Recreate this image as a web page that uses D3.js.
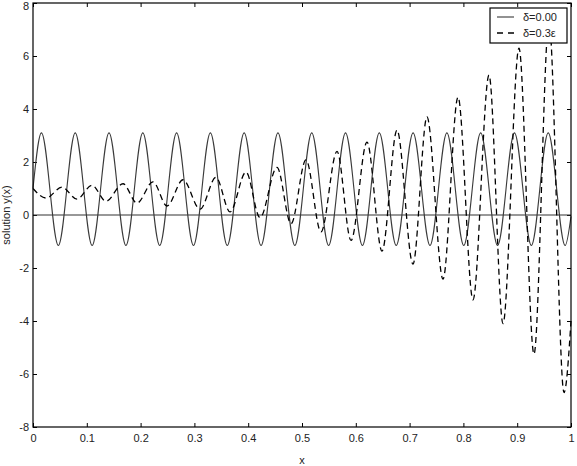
<!DOCTYPE html>
<html>
<head>
<meta charset="utf-8">
<script src="https://cdn.jsdelivr.net/npm/d3@7"></script>
<style>
  body { margin: 0; background: #fff; }
  text { font-family: "Liberation Sans", Arial, Helvetica, sans-serif; fill: #222; }
</style>
</head>
<body>
<div id="chart"></div>
<script>
// tick values
const xTicks = [0, 0.1, 0.2, 0.3, 0.4, 0.5, 0.6, 0.7, 0.8, 0.9, 1];
const yTicks = [-8, -6, -4, -2, 0, 2, 4, 6, 8];

// delta = 0.00 : start, then peaks / troughs, end
const solidX = [0, 0.0157, 0.0471, 0.0785, 0.1099, 0.1413, 0.1727, 0.2041, 0.2355,
    0.2669, 0.2983, 0.3297, 0.3611, 0.3925, 0.4239, 0.4553, 0.4867, 0.5181, 0.5495,
    0.5809, 0.6123, 0.6437, 0.6751, 0.7065, 0.7379, 0.7693, 0.8007, 0.8321, 0.8635,
    0.8949, 0.9263, 0.9577, 0.9891, 1];
const solidY = [1.0, 3.1, -1.15, 3.1, -1.15, 3.1, -1.15, 3.1, -1.15,
    3.1, -1.15, 3.1, -1.15, 3.1, -1.15, 3.1, -1.15, 3.1, -1.15,
    3.1, -1.15, 3.1, -1.15, 3.1, -1.15, 3.1, -1.15, 3.1, -1.15,
    3.1, -1.15, 3.1, -1.15, -0.05];

// delta = 0.3 eps : growing oscillation
const dashedX = [0, 0.0242, 0.0539, 0.0818, 0.1097, 0.1357, 0.1673, 0.1933, 0.2230,
    0.2491, 0.2788, 0.3104, 0.3401, 0.3662, 0.3959, 0.4219, 0.4535, 0.4796, 0.5074,
    0.5353, 0.5651, 0.5911, 0.6208, 0.6487, 0.6766, 0.7063, 0.7323, 0.7621, 0.7900,
    0.8178, 0.8476, 0.8736, 0.9033, 0.9312, 0.9591, 0.9870, 1];
const dashedY = [1.0, 0.64, 1.05, 0.6, 1.12, 0.52, 1.18, 0.45, 1.25,
    0.34, 1.33, 0.22, 1.42, 0.12, 1.62, -0.1, 1.8, -0.33, 2.08,
    -0.64, 2.4, -0.96, 2.75, -1.36, 3.2, -1.85, 3.7, -2.42, 4.45,
    -3.2, 5.28, -4.1, 6.3, -5.25, 7.3, -6.7, -4.0];

const seriesNames = ["\u03b4=0.00", "\u03b4=0.3\u03b5"];

const W = 577, H = 466;
const margin = { top: 3, right: 6, bottom: 39, left: 33 };
const width = W - margin.left - margin.right;
const height = H - margin.top - margin.bottom;

const svg = d3.select("#chart").append("svg")
    .attr("width", W)
    .attr("height", H);

const g = svg.append("g")
    .attr("transform", "translate(" + margin.left + "," + margin.top + ")");

const x = d3.scaleLinear().domain([0, 1]).range([0, width]);
const y = d3.scaleLinear().domain([-8, 8]).range([height, 0]);

// axes, ticks pointing inward, plain hyphen minus like the original
g.append("g")
    .attr("transform", "translate(0," + height + ")")
    .call(d3.axisBottom(x).tickValues(xTicks).tickSize(-4).tickPadding(7)
        .tickFormat(d => String(d)))
    .call(a => a.select(".domain").remove());

g.append("g")
    .attr("class", "yaxis")
    .call(d3.axisLeft(y).tickValues(yTicks).tickSize(-4).tickPadding(4)
        .tickFormat(d => String(d)))
    .call(a => a.select(".domain").remove());

// top label would be clipped otherwise
g.selectAll(".yaxis .tick text")
    .filter(d => d === 8)
    .attr("dy", "0.6em");

g.append("g")
    .call(d3.axisTop(x).tickValues(xTicks).tickSize(-4).tickFormat(""))
    .call(a => a.select(".domain").remove());

g.append("g")
    .attr("transform", "translate(" + width + ",0)")
    .call(d3.axisRight(y).tickValues(yTicks).tickSize(-4).tickFormat(""))
    .call(a => a.select(".domain").remove());

g.selectAll(".tick text")
    .style("font-size", "11px")
    .attr("fill", "#222");
g.selectAll(".tick line").attr("stroke", "#000");

// zero line
g.append("line")
    .attr("x1", 0).attr("x2", width)
    .attr("y1", y(0)).attr("y2", y(0))
    .attr("stroke", "#333")
    .attr("stroke-width", 1.2);

// curves
const line = d3.line()
    .x(d => x(d[0]))
    .y(d => y(d[1]))
    .curve(d3.curveMonotoneX);

g.append("path")
    .datum(d3.zip(solidX, solidY))
    .attr("fill", "none")
    .attr("stroke", "#3a3a3a")
    .attr("stroke-width", 1.1)
    .attr("d", line);

g.append("path")
    .datum(d3.zip(dashedX, dashedY))
    .attr("fill", "none")
    .attr("stroke", "#000")
    .attr("stroke-width", 1.3)
    .attr("stroke-dasharray", "6,4")
    .attr("d", line);

// frame
g.append("rect")
    .attr("width", width)
    .attr("height", height)
    .attr("fill", "none")
    .attr("stroke", "#000")
    .attr("stroke-width", 1.2);

// legend
const lg = g.append("g")
    .attr("transform", "translate(" + (width - 81) + ",5)");

lg.append("rect")
    .attr("width", 77)
    .attr("height", 35)
    .attr("fill", "#fff")
    .attr("stroke", "#000")
    .attr("stroke-width", 1.2);

seriesNames.forEach((name, i) => {
    let yy = 9 + i * 16;
    lg.append("line")
        .attr("x1", 7).attr("x2", 24)
        .attr("y1", yy).attr("y2", yy)
        .attr("stroke", i === 0 ? "#3a3a3a" : "#000")
        .attr("stroke-width", i === 0 ? 1.1 : 1.3)
        .attr("stroke-dasharray", i === 0 ? null : "6,5");
    lg.append("text")
        .attr("x", 33)
        .attr("y", yy + 4)
        .style("font-size", "11px")
        .text(name);
});

// axis labels
svg.append("text")
    .attr("x", margin.left + width / 2)
    .attr("y", H - 2)
    .attr("text-anchor", "middle")
    .style("font-size", "11px")
    .text("x");

svg.append("text")
    .attr("transform", "translate(10," + (margin.top + height / 2) + ") rotate(-90)")
    .attr("text-anchor", "middle")
    .style("font-size", "11px")
    .text("solution y(x)");
</script>
</body>
</html>
